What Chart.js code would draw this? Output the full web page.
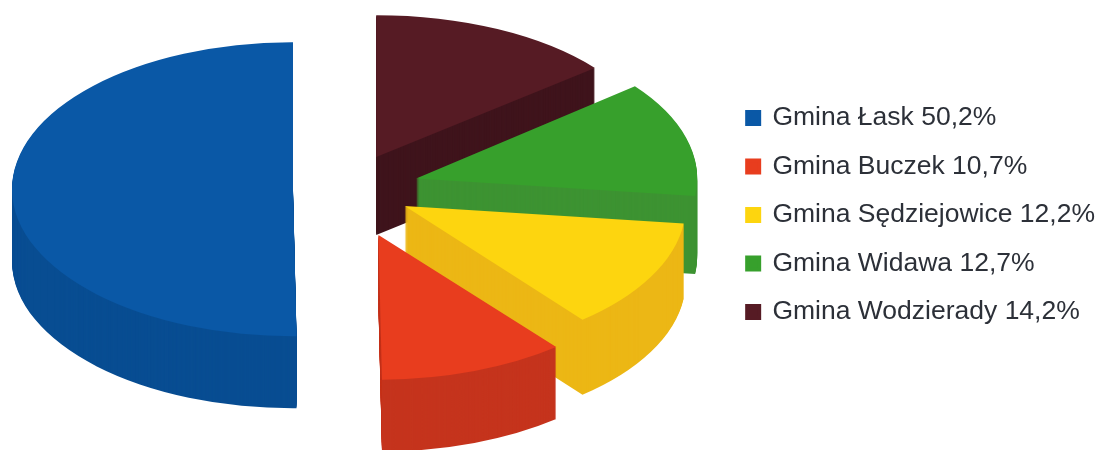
<!DOCTYPE html>
<html>
<head>
<meta charset="utf-8">
<script src="https://cdn.jsdelivr.net/npm/chart.js@4"></script>
<style>
  html, body { margin: 0; padding: 0; background: #fff; }
  #wrap { width: 1100px; height: 450px; filter: blur(0.5px); }
</style>
</head>
<body>
<div id="wrap"><canvas id="pie"></canvas></div>
<script>
// values, in legend order
const categories = ['Gmina Łask', 'Gmina Buczek', 'Gmina Sędziejowice', 'Gmina Widawa', 'Gmina Wodzierady'];
const shares = [50.2, 10.7, 12.2, 12.7, 14.2];

const topColors = ['#0a58a6', '#e83d1e', '#fdd50f', '#37a02c', '#561b24'];
const sideColors = ['#084d92', '#c5341d', '#ecb715', '#3d9332', '#3f141c'];
// look of each slice: how far it is pulled out, how flat it lies, how thick it is
const explode = [53, 95, 67, 73, 70];
const tilts = [0.523, 0.515, 0.523, 0.523, 0.505];
const depths = [72, 72, 75, 78, 78];

const PIE_X = 346;
const PIE_Y = 189;

// the source runs counter-clockwise from the top, Chart.js only clockwise
const rev = (a) => a.slice().reverse();

const tiltedPie = {
  id: 'tiltedPie',
  beforeDatasetDraw(chart, args) {
    const ctx = chart.ctx;
    const arcs = args.meta.data;
    const pulls = rev(explode);
    const sides = rev(sideColors);
    const flat = rev(tilts);
    const thick = rev(depths);

    arcs.forEach((arc, i) => {
      const mid = (arc.startAngle + arc.endAngle) / 2;
      const top = arc.options.backgroundColor;
      ctx.save();
      ctx.translate(PIE_X, PIE_Y);
      ctx.scale(1, flat[i]);
      ctx.translate(Math.cos(mid) * pulls[i] - arc.x, Math.sin(mid) * pulls[i] - arc.y);

      // stack copies of the slice to get the side wall
      arc.options.backgroundColor = sides[i];
      for (let d = thick[i]; d > 0; d--) {
        ctx.save();
        ctx.translate(0, d / flat[i]);
        arc.draw(ctx);
        ctx.restore();
      }
      arc.options.backgroundColor = top;
      arc.draw(ctx);
      ctx.restore();
    });
    return false;
  }
};

new Chart(document.getElementById('pie'), {
  type: 'pie',
  data: {
    labels: rev(categories),
    datasets: [{
      data: rev(shares),
      backgroundColor: rev(topColors),
      borderWidth: 0,
      clip: false
    }]
  },
  plugins: [tiltedPie],
  options: {
    responsive: true,
    maintainAspectRatio: false,
    animation: false,
    radius: 281,
    layout: { padding: { bottom: 20, right: -5 } },
    plugins: {
      tooltip: { enabled: false },
      legend: {
        position: 'right',
        reverse: true,
        labels: {
          color: '#2c3038',
          font: { family: '"Liberation Sans"', size: 26.5 },
          boxWidth: 12,
          boxHeight: 12,
          padding: 22,
          generateLabels(chart) {
            return Chart.overrides.pie.plugins.legend.labels.generateLabels(chart).map((item) => {
              const value = chart.data.datasets[0].data[item.index];
              item.text += ' ' + value.toFixed(1).replace('.', ',') + '%';
              // thick outline so the swatch stays 16px while the text sits close to it
              item.strokeStyle = item.fillStyle;
              item.lineWidth = 4;
              return item;
            });
          }
        }
      }
    }
  }
});
</script>
</body>
</html>
